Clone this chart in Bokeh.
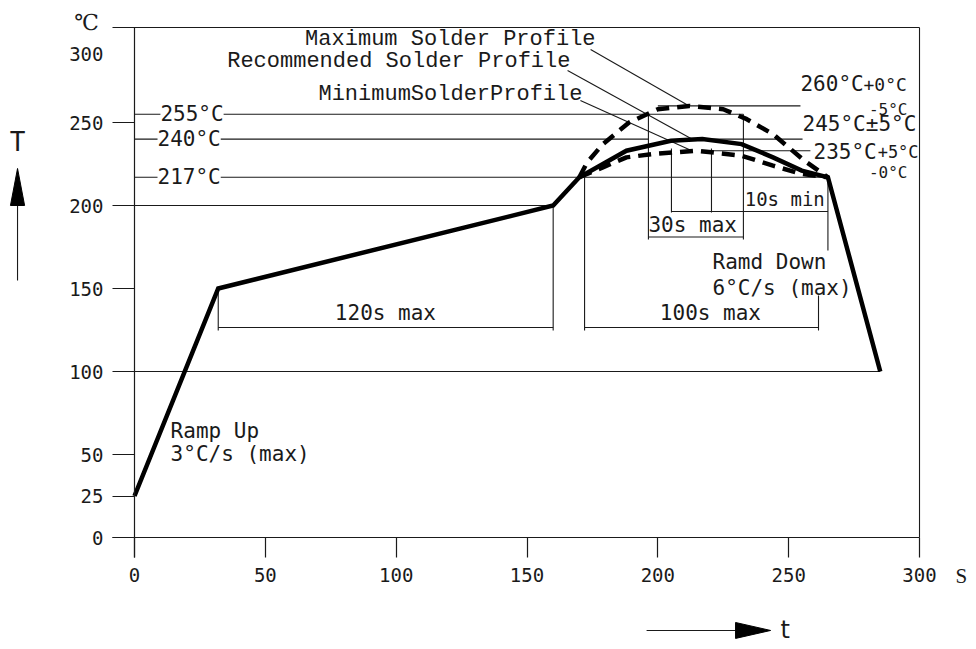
from bokeh.plotting import figure
from bokeh.models import LinearAxis, FixedTicker, Range1d
from bokeh.core.properties import value
from bokeh.embed import file_html
from bokeh.resources import INLINE

# ---------------- data (time in s, temperature in °C) ----------------
rec_time = [0, 32, 160, 170, 179, 188, 205, 217, 232, 244, 255, 265, 285]
rec_temp = [25, 150, 200, 217, 225, 233, 239, 240, 237, 229, 221, 217, 100]

max_time = [170, 173, 179, 189, 200, 212, 225, 234, 244, 256, 265]
max_temp = [217, 226, 237, 250, 258, 260, 258, 252, 243, 227, 217]

min_time = [170, 179, 188, 198, 215, 232, 244, 255, 265]
min_temp = [217, 223, 229, 231, 233, 230, 224, 219, 217]

x_ticks = [0, 50, 100, 150, 200, 250, 300]
y_ticks = [0, 25, 50, 100, 150, 200, 250]
y_top_tick = 300

ref_temps = [255, 240, 217]
ref_labels = ["255°C", "240°C", "217°C"]

# ---------------- layout ----------------
W, H = 976, 649
PX_S = 2.6167          # pixels per second
PX_C = 1.66            # pixels per °C
OX, OY = 134, 537      # canvas pixel of (0 s, 0 °C)

p = figure(width=W, height=H,
           x_range=Range1d(-OX / PX_S, (W - OX) / PX_S),
           y_range=Range1d(-(H - OY) / PX_C, OY / PX_C),
           x_axis_type=None, y_axis_type=None,
           toolbar_location=None, output_backend="svg",
           min_border=0, outline_line_color=None)
p.background_fill_color = "white"
p.border_fill_color = "white"

INK = "#1a1a1a"
x_left = -22 / PX_S
y_bot = -20 / PX_C
y_top = 510 / PX_C

def style_axis(ax, standoff):
    ax.axis_line_color = INK
    ax.axis_line_width = 1.2
    ax.major_tick_line_color = INK
    ax.major_tick_line_width = 1.2
    ax.minor_tick_line_color = None
    ax.major_tick_in = 0
    ax.major_label_text_font = "DejaVu Sans Mono"
    ax.major_label_text_font_size = "19px"
    ax.major_label_text_color = INK
    ax.major_label_standoff = standoff

xaxis = LinearAxis(fixed_location=0, ticker=FixedTicker(ticks=x_ticks),
                   bounds=(x_left, x_ticks[-1]))
style_axis(xaxis, 10)
xaxis.major_tick_out = 20
p.add_layout(xaxis, "below")

yaxis = LinearAxis(fixed_location=0, ticker=FixedTicker(ticks=y_ticks),
                   bounds=(y_bot, y_top))
style_axis(yaxis, 9)
yaxis.major_tick_out = 22
p.add_layout(yaxis, "left")

def text(x, y, s, size="21px", font="DejaVu Sans Mono", align="left", **kw):
    p.text(x=[x], y=[y], text=[s], text_font=value(font), text_font_size=size,
           text_align=align, text_baseline="middle", text_color=INK, **kw)

# 300 label (the drawing has no tick there)
text(0, y_top_tick, str(y_top_tick), size="19px", align="right", x_offset=-31, y_offset=14)

# ---------------- thin construction lines ----------------
segs = []
def seg(x0, y0, x1, y1):
    segs.append((x0, y0, x1, y1))

t_end = x_ticks[-1]
seg(x_left, y_top, t_end, y_top)          # top border
seg(t_end, 0, t_end, y_top)               # right border

t30a, t30b = 196.4, 232.7
t10a, t10b = 205.2, 220.5
t_conv = rec_time[-2]
t100a, t100b = 172, 261.4
for T, e in zip(ref_temps, [t30b, t30a, t_conv]):
    seg(0, T, e, T)
seg(0, rec_temp[2], rec_time[2], rec_temp[2])     # 200 °C to end of preheat
seg(0, rec_temp[-1], rec_time[-1], rec_temp[-1])  # 100 °C to end of cooling

yb, ylow = 126.5, 124.7
# 120 s bracket
seg(rec_time[1], rec_temp[1], rec_time[1], ylow)
seg(rec_time[2], rec_temp[2], rec_time[2], ylow)
seg(rec_time[1], yb, rec_time[2], yb)
# 100 s bracket
seg(t100a, ref_temps[2], t100a, ylow)
seg(t100b, 145.8, t100b, ylow)
seg(t100a, yb, t100b, yb)
# 30 s bracket
seg(t30a, ref_temps[0], t30a, 179.5)
seg(t30b, ref_temps[0], t30b, 179.5)
seg(t30a, 181, t30b, 181)
# 10 s bracket
seg(t10a, 234.3, t10a, 195.8)
seg(t10b, 234.3, t10b, 195.8)
seg(t10a, 196.4, t_conv, 196.4)
seg(t_conv, ref_temps[2], t_conv, 172.9)

# peak leaders to the right-hand labels
mx_i = max_temp.index(max(max_temp))
rc_i = rec_temp.index(max(rec_temp))
mn_i = min_temp.index(max(min_temp))
seg(200, max_temp[mx_i], 254.5, max_temp[mx_i])
seg(rec_time[rc_i], rec_temp[rc_i], 255.3, rec_temp[rc_i])
seg(min_time[mn_i] + 5, min_temp[mn_i], 258.3, min_temp[mn_i])
# leaders from the profile names
seg(174.3, 294.0, max_time[mx_i], max_temp[mx_i])
seg(165.5, 281.3, rec_time[rc_i] - 4, rec_temp[rc_i])
seg(170.4, 263.3, min_time[mn_i] - 2, min_temp[mn_i])

# axis arrows (shafts)
seg(-44.7, 154.8, -44.7, 200)
seg(195.7, -56.0, 229.7, -56.0)

p.segment(x0=[s[0] for s in segs], y0=[s[1] for s in segs],
          x1=[s[2] for s in segs], y1=[s[3] for s in segs],
          line_color=INK, line_width=1.1)

# arrow heads
p.patches(xs=[[-47.4, -44.7, -42.0], [229.7, 243.1, 229.7]],
          ys=[[200, 222.3, 200], [-51.2, -56.0, -60.8]],
          fill_color="black", line_color="black", line_width=1)

# ---------------- profiles ----------------
p.line(rec_time, rec_temp, line_width=4.5, line_color="black", line_join="miter")
p.line(max_time, max_temp, line_width=4.5, line_color="black", line_dash="13 8")
p.line(min_time, min_temp, line_width=4.5, line_color="black", line_dash="13 8")

# ---------------- texts ----------------
text(176.2, 300.0, "Maximum Solder Profile", size="22px", font="Liberation Mono", align="right")
text(166.6, 286.7, "Recommended Solder Profile", size="22px", font="Liberation Mono", align="right")
text(171.2, 266.9, "MinimumSolderProfile", size="22px", font="Liberation Mono", align="right")

for T, lab, x in zip(ref_temps, ref_labels, [9.9, 8.8, 8.8]):
    text(x, T, lab, background_fill_color="white")

text(254.5, 273, "260°C")
text(278.6, 273, "+0°C", size="18px")
text(295.4, 257.8, "-5°C", size="16px", align="right")
text(255.3, 248.8, "245°C±5°C")
text(259.5, 232.5, "235°C")
text(284.0, 232.0, "+5°C", size="17px")
text(295.4, 219.9, "-0°C", size="16px", align="right")

text(196.4, 188, "30s max")
text(233.2, 204.2, "10s min", size="19px")
text(95.9, 135, "120s max", align="center")
text(220.1, 135, "100s max", align="center")
text(13.8, 63.9, "Ramp Up")
text(13.8, 50.6, "3°C/s (max)")
text(220.9, 165.7, "Ramd Down")
text(220.9, 150.6, "6°C/s (max)")

text(-18.3, 310.2, "℃", size="22px", font="DejaVu Serif", align="center")
text(-44.7, 238.5, "T", size="26px", font="DejaVu Sans Mono", align="center")
text(313.8, -22.9, "S", size="21px", font="Liberation Serif")
text(246.9, -56.0, "t", size="24px", font="DejaVu Sans")

open("out.html", "w").write(file_html(p, INLINE))
